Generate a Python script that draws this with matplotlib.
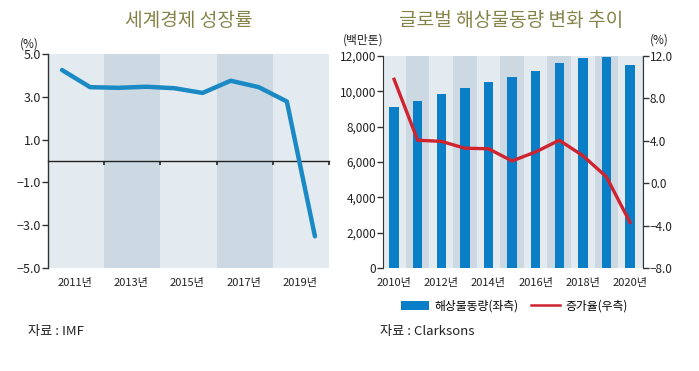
import matplotlib
matplotlib.use("Agg")
import matplotlib.pyplot as plt
from matplotlib.patches import Patch
from matplotlib.lines import Line2D

plt.rcParams['font.family'] = ['Noto Sans CJK KR', 'DejaVu Sans']

# ---- data: world economic growth (IMF) ----
gdp_years = [2011, 2012, 2013, 2014, 2015, 2016, 2017, 2018, 2019, 2020]
gdp_growth = [4.25, 3.45, 3.42, 3.47, 3.40, 3.18, 3.75, 3.45, 2.78, -3.52]
gdp_ylabels = ['5.0', '3.0', '1.0', '−1.0', '−3.0', '−5.0']
gdp_yticks = [5.0, 3.0, 1.0, -1.0, -3.0, -5.0]
gdp_xlabel_years = [2011, 2013, 2015, 2017, 2019]

# ---- data: global seaborne trade (Clarksons) ----
trade_years = [2010, 2011, 2012, 2013, 2014, 2015, 2016, 2017, 2018, 2019, 2020]
trade_volume = [9105, 9480, 9860, 10215, 10520, 10800, 11145, 11600, 11915, 11970, 11500]
trade_growth = [9.8, 4.05, 3.95, 3.3, 3.25, 2.1, 2.95, 4.05, 2.6, 0.6, -3.7]
trade_xlabel_years = [2010, 2012, 2014, 2016, 2018, 2020]
vol_ticks = [0, 2000, 4000, 6000, 8000, 10000, 12000]
pct_ticks = [-8.0, -4.0, 0.0, 4.0, 8.0, 12.0]

LIGHT = '#e3ebf0'
DARK = '#ccd9e2'
BLUE_LINE = '#1b8ac4'
BAR = '#0a7ec6'
RED = '#cf2430'
TITLE_C = '#84844a'
TXT = '#222222'
SPINE = '#333333'

W, H = 699, 371
fig = plt.figure(figsize=(W / 100, H / 100), dpi=100)
fig.patch.set_facecolor('white')

def fx(px):
    return px / W

def fy(py):
    return 1 - py / H

# ================= left chart =================
ax = fig.add_axes([fx(48), fy(268), fx(329) - fx(48), fy(54) - fy(268)])
ax.set_xlim(2010.5, 2020.5)
ax.set_ylim(-5.0, 5.0)
for i, y in enumerate(range(2010, 2020, 2)):
    ax.axvspan(y + 0.5, y + 2.5, color=LIGHT if i % 2 == 0 else DARK, lw=0, zorder=0)
ax.plot(gdp_years, gdp_growth, color=BLUE_LINE, lw=3.2, zorder=3, solid_capstyle='round')

for s in ['top', 'right']:
    ax.spines[s].set_visible(False)
ax.spines['left'].set_color(SPINE)
ax.spines['left'].set_linewidth(1.0)
ax.spines['bottom'].set_position(('data', 0))
ax.spines['bottom'].set_color('#222222')
ax.spines['bottom'].set_linewidth(1.0)
ax.set_xticks([y + 1.5 for y in gdp_xlabel_years])
ax.tick_params(axis='x', direction='out', length=3, width=1.2, color='#222222', labelbottom=False)
ax.set_yticks(gdp_yticks)
ax.set_yticklabels(gdp_ylabels)
ax.tick_params(axis='y', direction='out', length=4, width=1, color=SPINE, labelsize=9, labelcolor=TXT, pad=1)

sec = ax.secondary_xaxis('bottom')
sec.set_xticks([y + 0.46 for y in gdp_xlabel_years])
sec.set_xticklabels([f'{y}년' for y in gdp_xlabel_years])
sec.tick_params(length=0, labelsize=8, labelcolor=TXT, pad=7)
sec.spines['bottom'].set_visible(False)

fig.text(fx(20), fy(44), '(%)', fontsize=8.5, color=TXT, va='center', ha='left')
fig.text(fx(189), fy(21), '세계경제 성장률', fontsize=13.8, color=TITLE_C, ha='center', va='center',
         fontweight='medium')
fig.text(fx(28), fy(332), '자료 : IMF', fontsize=9.5, color=TXT, ha='left', va='center')

# ================= right chart =================
bx = fig.add_axes([fx(383), fy(268), fx(643) - fx(383), fy(56) - fy(268)])
bx.set_xlim(2009.53, 2020.55)
bx.set_ylim(0, 12000)
for y in range(2009, 2021):
    bx.axvspan(y + 0.5, y + 1.5, color=LIGHT if (y + 1) % 2 == 0 else DARK, lw=0, zorder=0)
bx.bar(trade_years, trade_volume, width=0.4, color=BAR, zorder=2)
bx.set_yticks(vol_ticks)
bx.set_yticklabels([f'{v:,}' for v in vol_ticks])
bx.set_xticks(trade_xlabel_years)
bx.set_xticklabels([f'{y}년' for y in trade_xlabel_years])
bx.tick_params(axis='x', length=0, labelsize=8, labelcolor=TXT, pad=7)
bx.tick_params(axis='y', direction='out', length=4, width=1, color=SPINE, labelsize=8.5, labelcolor=TXT, pad=1)
for s in ['top', 'bottom', 'right']:
    bx.spines[s].set_visible(False)
bx.spines['left'].set_color(SPINE)

bx2 = bx.twinx()
bx2.set_ylim(-8, 12)
bx2.plot(trade_years, trade_growth, color=RED, lw=2.4, zorder=4)
bx2.set_yticks(pct_ticks)
bx2.set_yticklabels([f'{v:.1f}'.replace('-', '−') for v in pct_ticks])
bx2.tick_params(axis='y', direction='out', length=4, width=1, color=SPINE, labelsize=8.5, labelcolor=TXT, pad=1)
for s in ['top', 'bottom', 'left']:
    bx2.spines[s].set_visible(False)
bx2.spines['right'].set_color(SPINE)

fig.text(fx(343), fy(40), '(백만톤)', fontsize=8.5, color=TXT, va='center', ha='left')
fig.text(fx(650), fy(40), '(%)', fontsize=8.5, color=TXT, va='center', ha='left')
fig.text(fx(511), fy(21), '글로벌 해상물동량 변화 추이', fontsize=13.8, color=TITLE_C, ha='center', va='center',
         fontweight='medium')
fig.text(fx(380), fy(332), '자료 : Clarksons', fontsize=9.5, color=TXT, ha='left', va='center')

handles = [Patch(facecolor=BAR, edgecolor='none'), Line2D([0], [0], color=RED, lw=1.8)]
fig.legend(handles, ['해상물동량(좌측)', '증가율(우측)'], loc='center',
           bbox_to_anchor=(fx(514), fy(306)), ncol=2, frameon=False, fontsize=8.5,
           handlelength=2.4, handleheight=0.8, columnspacing=1.1, handletextpad=0.45)

fig.savefig('out.png', dpi=100)
